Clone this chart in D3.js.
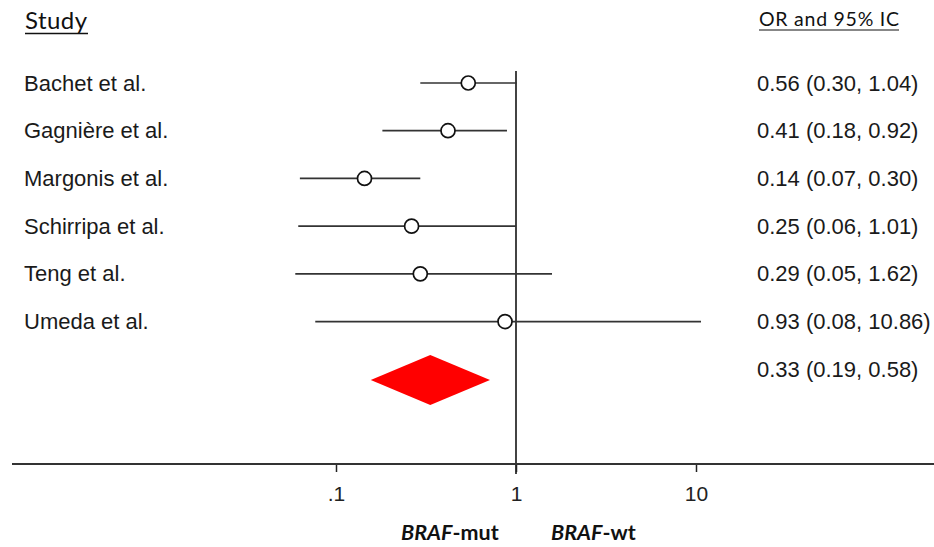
<!DOCTYPE html>
<html>
<head>
<meta charset="utf-8">
<script src="https://cdn.jsdelivr.net/npm/d3@7"></script>
<style>
  html, body { margin: 0; padding: 0; background: #fff; }
  svg { display: block; }
</style>
</head>
<body>
<svg id="chart" width="934" height="547"></svg>
<script>
// ---- data ----
const studies = ["Bachet et al.", "Gagnière et al.", "Margonis et al.", "Schirripa et al.", "Teng et al.", "Umeda et al."];
const orPlot   = [0.543, 0.419, 0.144, 0.263, 0.294, 0.869];
const ciLoPlot = [0.294, 0.181, 0.063, 0.0617, 0.0594, 0.0767];
const ciHiPlot = [1.01, 0.891, 0.294, 1.0, 1.585, 10.66];
const orLabels = ["0.56 (0.30, 1.04)", "0.41 (0.18, 0.92)", "0.14 (0.07, 0.30)", "0.25 (0.06, 1.01)", "0.29 (0.05, 1.62)", "0.93 (0.08, 10.86)"];
const pooled = { or: 0.334, lo: 0.156, hi: 0.717, label: "0.33 (0.19, 0.58)" };
const tickValues = [0.1, 1, 10];
const tickLabels = [".1", "1", "10"];

const svg = d3.select("#chart");
const x = d3.scaleLog().domain([0.1, 10]).range([336, 696]);
const rowY = d3.scalePoint().domain(d3.range(8)).range([83, 417]); // rows 0..7
const axisY = 464;
const sans = "'Liberation Sans', Arial, sans-serif";
const calib = "Lato, 'Open Sans', sans-serif";

// headers
svg.append("text").attr("x", 25).attr("y", 29)
  .attr("font-family", calib).attr("font-size", 24).attr("fill", "#111")
  .attr("textLength", 62).text("Study");
svg.append("line").attr("x1", 25).attr("x2", 88).attr("y1", 33.5).attr("y2", 33.5)
  .attr("stroke", "#111").attr("stroke-width", 1.4);
svg.append("text").attr("x", 759).attr("y", 26)
  .attr("font-family", calib).attr("font-size", 19.5).attr("fill", "#111")
  .attr("textLength", 140).text("OR and 95% IC");
svg.append("line").attr("x1", 759).attr("x2", 899).attr("y1", 30).attr("y2", 30)
  .attr("stroke", "#111").attr("stroke-width", 1.2);

// reference line at 1
svg.append("line").attr("x1", x(1)).attr("x2", x(1)).attr("y1", 71).attr("y2", 474)
  .attr("stroke", "#222").attr("stroke-width", 1.7);

// x axis
const axis = d3.axisBottom(x).tickValues(tickValues).tickSize(8)
  .tickFormat((d, i) => tickLabels[i]);
const gAxis = svg.append("g").attr("transform", `translate(0,${axisY})`).call(axis);
gAxis.select(".domain").remove();
gAxis.selectAll(".tick line").attr("stroke", "#222").attr("stroke-width", 1.5);
gAxis.selectAll(".tick text").attr("font-family", sans)
  .attr("font-size", 21).attr("fill", "#222").attr("y", 37).attr("dy", 0);
svg.append("line").attr("x1", 12).attr("x2", 934).attr("y1", axisY).attr("y2", axisY)
  .attr("stroke", "#333").attr("stroke-width", 2);

// study rows
const rows = svg.append("g");
studies.forEach((s, i) => {
  rows.append("text").attr("x", 24).attr("y", rowY(i) + 7.5)
    .attr("font-family", sans).attr("font-size", 22).attr("fill", "#1a1a1a")
    .text(s);
  rows.append("line").attr("x1", x(ciLoPlot[i])).attr("x2", x(ciHiPlot[i]))
    .attr("y1", rowY(i)).attr("y2", rowY(i)).attr("stroke", "#333").attr("stroke-width", 1.7);
  rows.append("circle").attr("cx", x(orPlot[i])).attr("cy", rowY(i)).attr("r", 7)
    .attr("fill", "#fff").attr("stroke", "#111").attr("stroke-width", 1.7);
  rows.append("text").attr("x", 757).attr("y", rowY(i) + 7.5)
    .attr("font-family", sans).attr("font-size", 22).attr("fill", "#1a1a1a")
    .text(orLabels[i]);
});

// pooled diamond
const dy = 380;
svg.append("path")
  .attr("d", `M${x(pooled.lo)},${dy} L${x(pooled.or)},${dy - 25} L${x(pooled.hi)},${dy} L${x(pooled.or)},${dy + 25} Z`)
  .attr("fill", "#ff0000");
svg.append("text").attr("x", 757).attr("y", rowY(6) + 7.5)
  .attr("font-family", sans).attr("font-size", 22).attr("fill", "#1a1a1a")
  .text(pooled.label);

// bottom direction labels
const lab = svg.append("g").attr("font-family", calib).attr("font-size", 21.5).attr("fill", "#111");
const t1 = lab.append("text").attr("x", 401).attr("y", 540);
t1.append("tspan").attr("font-style", "italic").attr("font-weight", "bold").text("BRAF");
t1.append("tspan").attr("font-weight", "bold").text("-mut");
const t2 = lab.append("text").attr("x", 551).attr("y", 540);
t2.append("tspan").attr("font-style", "italic").attr("font-weight", "bold").text("BRAF");
t2.append("tspan").attr("font-weight", "bold").text("-wt");
</script>
</body>
</html>
